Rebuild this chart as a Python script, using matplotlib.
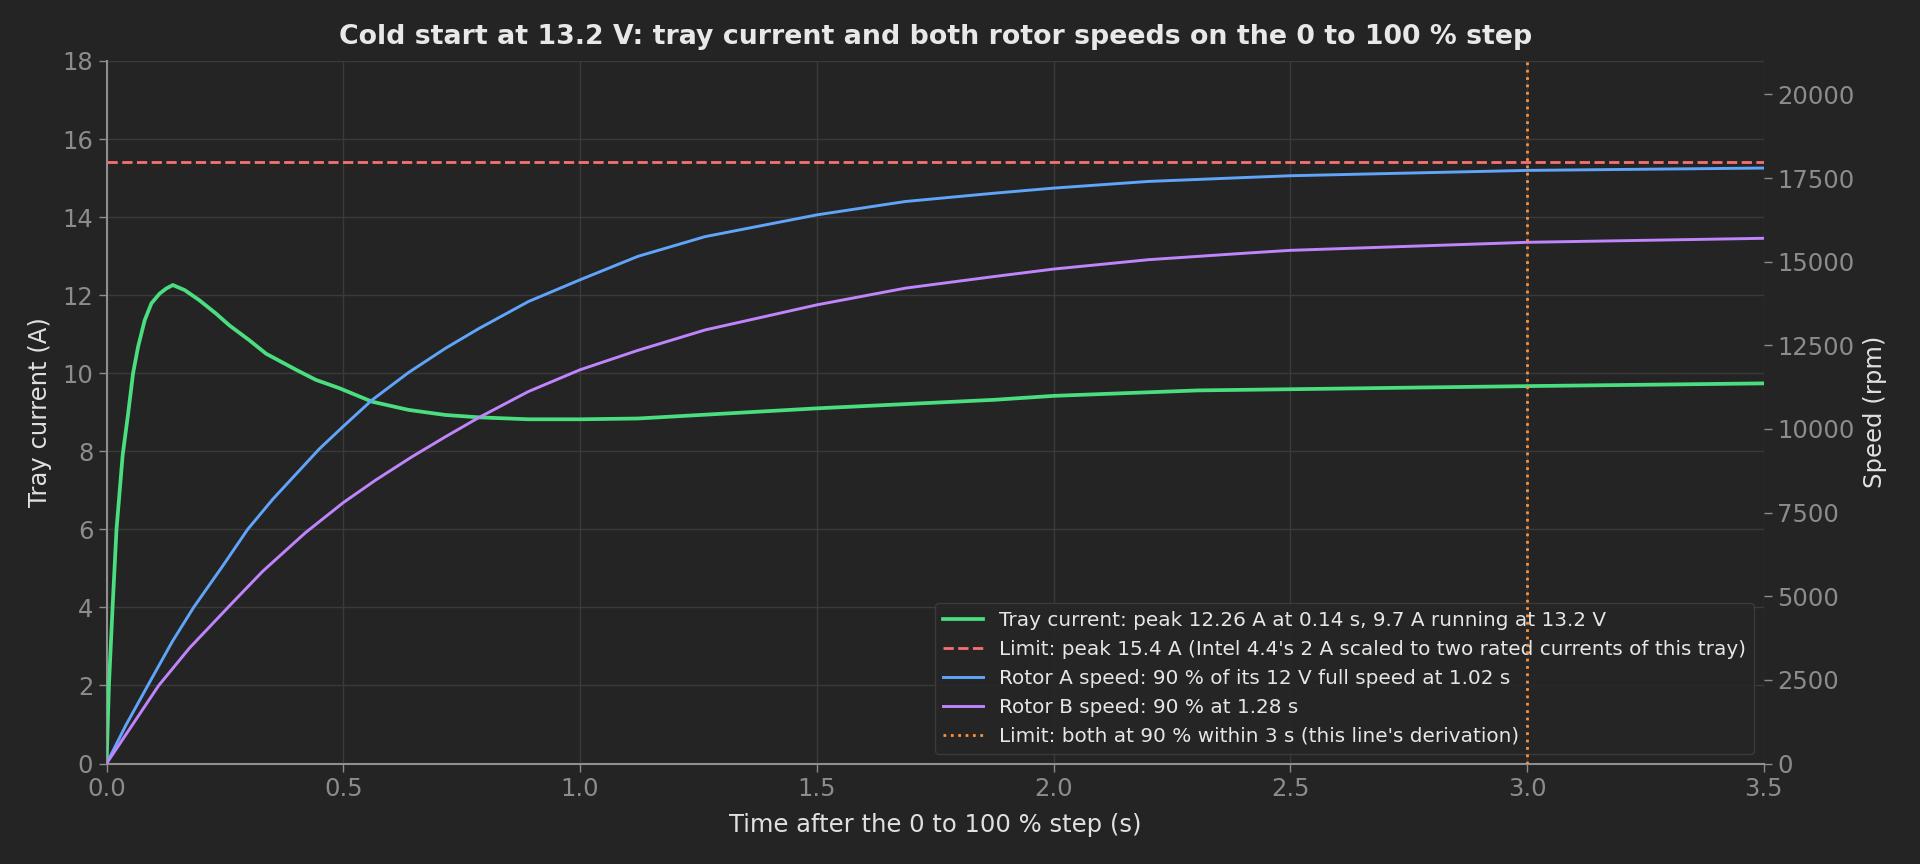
import matplotlib
matplotlib.use("Agg")
import matplotlib.pyplot as plt

# ---- values ----
t_current = [0, 0.005, 0.0127, 0.021, 0.034, 0.0456, 0.056, 0.0666, 0.0806, 0.0947,
             0.112, 0.126, 0.14, 0.165, 0.196, 0.231, 0.259, 0.301, 0.337, 0.4,
             0.442, 0.491, 0.533, 0.561, 0.638, 0.716, 0.786, 0.891, 1.0, 1.122,
             1.5, 1.876, 2.0, 2.305, 2.5, 3.0, 3.5]
current_a = [0, 2.0, 4.0, 6.0, 7.9, 8.97, 10.0, 10.68, 11.36, 11.79,
             12.04, 12.17, 12.26, 12.13, 11.87, 11.53, 11.23, 10.85, 10.5, 10.09,
             9.83, 9.62, 9.41, 9.27, 9.06, 8.93, 8.87, 8.82, 8.82, 8.84,
             9.10, 9.32, 9.42, 9.56, 9.59, 9.67, 9.74]

t_rotor_a = [0, 0.041, 0.087, 0.139, 0.184, 0.245, 0.298, 0.351, 0.449, 0.5, 0.561,
             0.638, 0.716, 0.786, 0.891, 1.0, 1.122, 1.264, 1.5, 1.687, 1.876, 2.0,
             2.2, 2.41, 2.5, 3.0, 3.5]
rotor_a_rpm = [0, 1150, 2330, 3650, 4670, 5900, 7000, 7900, 9400, 10080, 10870,
               11690, 12415, 13000, 13810, 14460, 15160, 15750, 16400, 16800, 17050, 17200,
               17400, 17520, 17570, 17730, 17800]

t_rotor_b = [0, 0.11, 0.175, 0.262, 0.33, 0.42, 0.5, 0.568, 0.645, 0.716, 0.786, 0.891,
             1.0, 1.122, 1.264, 1.5, 1.687, 1.876, 2.0, 2.2, 2.41, 2.5, 3.0, 3.5]
rotor_b_rpm = [0, 2330, 3450, 4750, 5750, 6900, 7800, 8470, 9170, 9770, 10340, 11120,
               11770, 12350, 12960, 13710, 14210, 14560, 14780, 15060, 15260, 15340, 15580, 15700]

peak_limit_a = 15.4
time_limit_s = 3.0

label_current = "Tray current: peak 12.26 A at 0.14 s, 9.7 A running at 13.2 V"
label_peak = "Limit: peak 15.4 A (Intel 4.4's 2 A scaled to two rated currents of this tray)"
label_a = "Rotor A speed: 90 % of its 12 V full speed at 1.02 s"
label_b = "Rotor B speed: 90 % at 1.28 s"
label_time = "Limit: both at 90 % within 3 s (this line's derivation)"

# ---- style ----
BG = '#242424'
GRID = '#3a3a3a'
TICK = '#8c8c8c'
TEXT = '#e0e0e0'
SPINE = '#8f8f8f'

plt.rcParams['font.family'] = ['DejaVu Sans']

fig = plt.figure(figsize=(19.2, 8.64), dpi=100, facecolor=BG)
ax = fig.add_axes([0.0555, 0.1163, 0.8632, 0.8131])
ax.set_facecolor(BG)
ax2 = ax.twinx()

ax.grid(True, color=GRID, linewidth=1.0, zorder=0)
ax.set_axisbelow(True)

l1, = ax.plot(t_current, current_a, color='#4ade80', linewidth=2.7, label=label_current, zorder=3)
l2 = ax.axhline(peak_limit_a, color='#f87171', linestyle='--', linewidth=2.0, label=label_peak, zorder=3)
l3, = ax2.plot(t_rotor_a, rotor_a_rpm, color='#60a5fa', linewidth=2.1, label=label_a)
l4, = ax2.plot(t_rotor_b, rotor_b_rpm, color='#c084fc', linewidth=2.1, label=label_b)
l5 = ax2.axvline(time_limit_s, color='#fb923c', linestyle=':', linewidth=2.0, label=label_time)

ax.set_xlim(0, 3.5)
ax.set_ylim(0, 18)
ax2.set_ylim(0, 21000)
ax.set_yticks(range(0, 19, 2))
ax2.set_yticks(range(0, 20001, 2500))

for a in (ax, ax2):
    a.tick_params(colors=TICK, labelsize=17.5, length=6, width=1.0)
    for s in a.spines.values():
        s.set_visible(False)
ax.spines['left'].set_visible(True)
ax.spines['bottom'].set_visible(True)
ax.spines['left'].set_color(SPINE)
ax.spines['bottom'].set_color(SPINE)
ax.spines['left'].set_linewidth(1.5)
ax.spines['bottom'].set_linewidth(1.5)

ax.set_xlabel("Time after the 0 to 100 % step (s)", color=TEXT, fontsize=17.5, labelpad=9)
ax.set_ylabel("Tray current (A)", color=TEXT, fontsize=17.5, labelpad=7.3)
ax2.set_ylabel("Speed (rpm)", color=TEXT, fontsize=17.5, labelpad=6.4)
ax.set_title("Cold start at 13.2 V: tray current and both rotor speeds on the 0 to 100 % step",
             color='#e8e8e8', fontsize=19.3, fontweight='bold', pad=12)

leg = ax.legend(handles=[l1, l2, l3, l4, l5], loc='lower right', fontsize=14.4,
                facecolor='#262626', edgecolor='#3d3d3d', framealpha=0.92,
                labelcolor='#e6e6e6', fancybox=True)
leg.set_zorder(5)

fig.savefig("out.png", dpi=100, facecolor=BG)
